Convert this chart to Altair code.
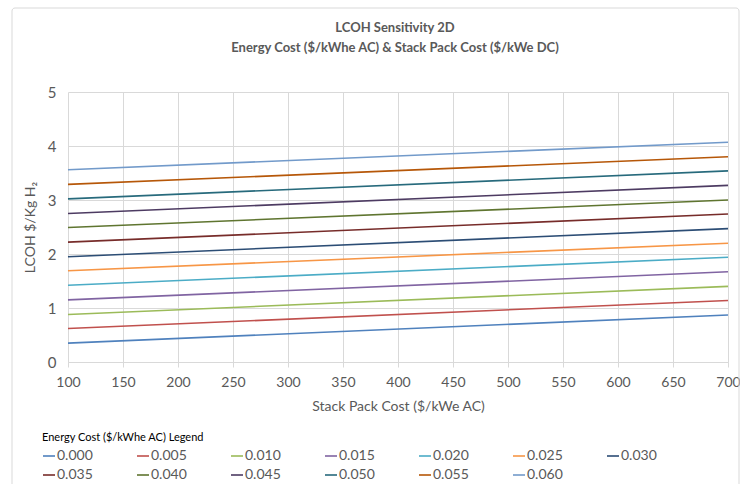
import altair as alt
import pandas as pd

# Energy cost series (legend labels)
energy_costs = ["0.000", "0.005", "0.010", "0.015", "0.020", "0.025", "0.030",
                "0.035", "0.040", "0.045", "0.050", "0.055", "0.060"]
# Stack pack cost end points ($/kWe AC)
stack_cost = [100, 700]
# LCOH read at stack cost = 100 and at 700
lcoh_at_100 = [0.35, 0.62, 0.88, 1.15, 1.42, 1.69, 1.95, 2.22, 2.49, 2.75, 3.02, 3.29, 3.56]
lcoh_at_700 = [0.87, 1.14, 1.40, 1.67, 1.94, 2.20, 2.47, 2.74, 3.00, 3.27, 3.54, 3.80, 4.07]
title_lines = ["LCOH Sensitivity 2D", "Energy Cost ($/kWhe AC) & Stack Pack Cost ($/kWe DC)"]

colors = ["#4F81BD", "#C0504D", "#9BBB59", "#8064A2", "#4BACC6", "#F79646", "#2C4D75",
          "#772C2A", "#5F7530", "#4D3B62", "#276A7C", "#B65708", "#729ACA"]

rows = []
for e, a, b in zip(energy_costs, lcoh_at_100, lcoh_at_700):
    rows.append({"energy": e, "stack": stack_cost[0], "lcoh": a})
    rows.append({"energy": e, "stack": stack_cost[1], "lcoh": b})
df = pd.DataFrame(rows)

FONT = "Lato"
GREY = "#595959"
GRID = "#d9d9d9"

frame = alt.Chart(pd.DataFrame({"a": [0]})).mark_rect(
    fill=None, filled=False, stroke=GRID, strokeWidth=1, cornerRadius=3
).encode(
    x=alt.value(-56), x2=alt.value(671), y=alt.value(-84), y2=alt.value(400)
)

title1 = alt.Chart(pd.DataFrame({"t": [title_lines[0]]})).mark_text(
    font=FONT, fontSize=13, fontWeight="bold", color=GREY, baseline="middle"
).encode(text="t:N", x=alt.value(327), y=alt.value(-64))
title2 = alt.Chart(pd.DataFrame({"t": [title_lines[1]]})).mark_text(
    font=FONT, fontSize=13, fontWeight="bold", color=GREY, baseline="middle"
).encode(text="t:N", x=alt.value(327), y=alt.value(-44))

lines = alt.Chart(df).mark_line(strokeWidth=1.6).encode(
    x=alt.X("stack:Q", scale=alt.Scale(domain=[100, 700], nice=False, zero=False),
            axis=alt.Axis(values=list(range(100, 701, 50)), title="Stack Pack Cost ($/kWe AC)",
                          tickSize=5, tickColor=GRID, domainColor=GRID, gridColor=GRID,
                          labelFontSize=14, labelFlush=False, labelPadding=8, titlePadding=10)),
    y=alt.Y("lcoh:Q", scale=alt.Scale(domain=[0, 5], nice=False),
            axis=alt.Axis(values=[0, 1, 2, 3, 4, 5], title="LCOH $/Kg H\u2082",
                          ticks=False, domain=False, gridColor=GRID,
                          labelPadding=12, titlePadding=10)),
    color=alt.Color("energy:N", scale=alt.Scale(domain=energy_costs, range=colors),
                    legend=alt.Legend(title="Energy Cost ($/kWhe AC)  Legend", orient="none",
                                      direction="horizontal",
                                      legendX=-26, legendY=340, columns=7, symbolType="stroke",
                                      symbolSize=144, symbolStrokeWidth=1.6, labelOffset=1,
                                      columnPadding=40, rowPadding=5, titleFontSize=11,
                                      titleFontWeight="normal", labelFontSize=14,
                                      titleColor="#000000", labelColor=GREY, titlePadding=6,
                                      labelFont=FONT, titleFont=FONT)),
    detail="energy:N",
)

chart = alt.layer(frame, lines, title1, title2).properties(
    width=660, height=270,
    background="white",
    autosize=alt.AutoSizeParams(type="none"),
    padding={"left": 68, "top": 92, "right": 12, "bottom": 122},
).configure_view(stroke=None).configure_axis(
    labelFont=FONT, titleFont=FONT, labelFontSize=15, titleFontSize=14,
    labelColor=GREY, titleColor=GREY, titleFontWeight="normal",
)

chart.save("out.html", embed_options={"renderer": "svg", "actions": False})
